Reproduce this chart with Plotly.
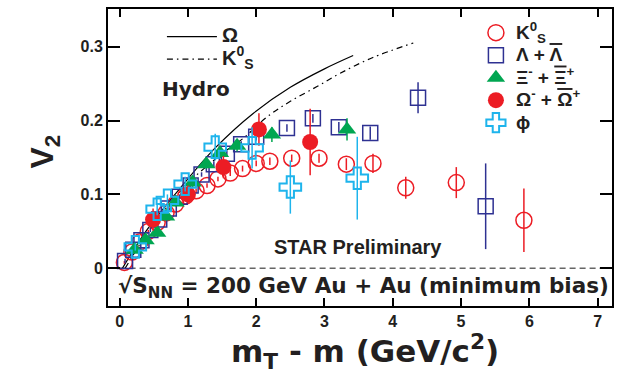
import plotly.graph_objects as go

# ---- measured v2 vs transverse kinetic energy (mT - m) ----
k0s_x = [0.07, 0.18, 0.30, 0.42, 0.55, 0.68, 0.82, 0.97, 1.12, 1.28, 1.44, 1.62, 1.80, 2.00, 2.20, 2.52, 2.92, 3.32, 3.71, 4.19, 4.93, 5.92]
k0s_y = [0.008, 0.022, 0.036, 0.050, 0.062, 0.075, 0.087, 0.098, 0.105, 0.112, 0.121, 0.129, 0.135, 0.142, 0.145, 0.149, 0.149, 0.141, 0.142, 0.109, 0.116, 0.065]
k0s_e = [0.002, 0.002, 0.002, 0.002, 0.002, 0.002, 0.003, 0.003, 0.003, 0.003, 0.003, 0.004, 0.004, 0.004, 0.005, 0.005, 0.006, 0.008, 0.013, 0.015, 0.021, 0.043]

lam_x = [0.08, 0.20, 0.32, 0.45, 0.58, 0.72, 0.88, 1.04, 1.20, 1.38, 1.57, 1.78, 2.00, 2.45, 2.83, 3.21, 3.67, 4.37, 5.36]
lam_y = [0.010, 0.025, 0.038, 0.052, 0.066, 0.081, 0.097, 0.112, 0.127, 0.141, 0.155, 0.168, 0.178, 0.190, 0.203, 0.191, 0.183, 0.231, 0.084]
lam_e = [0.003, 0.003, 0.003, 0.003, 0.003, 0.003, 0.003, 0.003, 0.003, 0.004, 0.004, 0.004, 0.005, 0.005, 0.006, 0.007, 0.009, 0.021, 0.058]

xi_x = [0.22, 0.38, 0.55, 0.68, 0.82, 1.07, 1.27, 1.47, 1.72, 2.23, 3.33]
xi_y = [0.025, 0.038, 0.048, 0.070, 0.089, 0.116, 0.141, 0.156, 0.166, 0.181, 0.188]
xi_e = [0.004, 0.004, 0.004, 0.005, 0.005, 0.006, 0.006, 0.007, 0.008, 0.010, 0.015]

om_x = [0.49, 1.00, 1.52, 2.04, 2.79]
om_y = [0.066, 0.100, 0.137, 0.188, 0.171]
om_e = [0.015, 0.012, 0.015, 0.022, 0.045]

phi_x = [0.23, 0.55, 0.70, 0.96, 1.40, 1.94, 2.50, 3.48]
phi_y = [0.029, 0.080, 0.092, 0.114, 0.164, 0.163, 0.110, 0.122]
phi_e = [0.005, 0.008, 0.008, 0.010, 0.018, 0.028, 0.036, 0.056]

# ---- hydrodynamic calculations ----
hydro_om_x = [0.04, 0.40, 0.90, 1.40, 1.96, 2.50, 3.00, 3.42]
hydro_om_y = [0.000, 0.052, 0.110, 0.163, 0.210, 0.245, 0.270, 0.288]
hydro_k_x = [0.08, 0.50, 1.00, 1.50, 1.81, 2.16, 2.50, 2.89, 3.23, 3.70, 4.30]
hydro_k_y = [0.000, 0.060, 0.115, 0.155, 0.176, 0.205, 0.226, 0.246, 0.264, 0.285, 0.305]

x_ticks = [0, 1, 2, 3, 4, 5, 6, 7]
y_ticks = [0, 0.1, 0.2, 0.3]
y_tick_text = ["0", "0.1", "0.2", "0.3"]

RED = "#ec1c24"
BLUE = "#2e3192"
GREEN = "#00a651"
CYAN = "#1eb4ec"
FONT = "Liberation Sans, Arial, sans-serif"
WIDE = "DejaVu Sans, sans-serif"
INK = "#231f20"


def lg(txt, size=19):
    # legend label drawn larger than the legend's row pitch font
    return f"<b><span style='font-size:{size}px'>{txt}</span></b>"


def ovl(txt):
    # antiparticle bar
    return f"<span style='text-decoration:overline'>{txt}</span>"


fig = go.Figure()

# zero reference line
fig.add_trace(go.Scatter(x=[0, 7.21], y=[0, 0], mode="lines",
                         line=dict(color="#666666", width=1.5, dash="6px,4px"),
                         showlegend=False, hoverinfo="skip"))

# hydro curves
fig.add_trace(go.Scatter(x=hydro_om_x, y=hydro_om_y, mode="lines", name=lg("Ω", 20),
                         line=dict(color="black", width=1.2, shape="spline"),
                         legend="legend2"))
fig.add_trace(go.Scatter(x=hydro_k_x, y=hydro_k_y, mode="lines",
                         name=lg("K<sup>0</sup><sub>S</sub>", 20),
                         line=dict(color="black", width=1.2, dash="6px,4px,1.5px,4px", shape="spline"),
                         legend="legend2"))


def err(arr, color):
    return dict(type="data", array=arr, visible=True, color=color, thickness=1.5, width=0)


fig.add_trace(go.Scatter(x=k0s_x, y=k0s_y, mode="markers", name=lg("K<sup>0</sup><sub>S</sub>"),
                         marker=dict(symbol="circle-open", size=16, color=RED, line=dict(width=1.5, color=RED)),
                         error_y=err(k0s_e, RED)))
fig.add_trace(go.Scatter(x=lam_x, y=lam_y, mode="markers",
                         name=lg("Λ + " + ovl("Λ")),
                         marker=dict(symbol="square-open", size=15, color=BLUE, line=dict(width=1.5, color=BLUE)),
                         error_y=err(lam_e, BLUE)))
fig.add_trace(go.Scatter(x=xi_x, y=xi_y, mode="markers",
                         name=lg("Ξ<sup>-</sup> + " + ovl("Ξ") + "<sup>+</sup>"),
                         marker=dict(symbol="triangle-up", size=16, color=GREEN),
                         error_y=err(xi_e, GREEN)))
fig.add_trace(go.Scatter(x=om_x, y=om_y, mode="markers",
                         name=lg("Ω<sup>-</sup> + " + ovl("Ω") + "<sup>+</sup>"),
                         marker=dict(symbol="circle", size=16, color=RED),
                         error_y=err(om_e, RED)))
fig.add_trace(go.Scatter(x=phi_x, y=phi_y, mode="markers", name=lg("ϕ"),
                         marker=dict(symbol="cross-open", size=18, color=CYAN, line=dict(width=2, color=CYAN)),
                         error_y=err(phi_e, CYAN)))

axis_common = dict(showline=True, linecolor="black", linewidth=2, mirror="ticks",
                   ticks="inside", tickcolor="black", tickwidth=1.5, showgrid=False,
                   zeroline=False, tickfont=dict(family=FONT, size=16, color=INK))

fig.update_xaxes(range=[-0.17, 7.21], tickvals=x_ticks,
                 ticktext=[f"<b>{t}</b>" for t in x_ticks], ticklen=8, **axis_common)
fig.update_yaxes(range=[-0.051, 0.351], tickvals=y_ticks,
                 ticktext=[f"<b>{t}</b>" for t in y_tick_text], ticklen=12, **axis_common)

fig.update_layout(
    width=622, height=374,
    margin=dict(l=108, r=10, t=7, b=68),
    paper_bgcolor="white", plot_bgcolor="white",
    font=dict(family=FONT, color=INK),
    legend=dict(x=0.73, y=0.975, xanchor="left", yanchor="top", bgcolor="rgba(0,0,0,0)",
                font=dict(family=FONT, size=15, color=INK), tracegroupgap=0, itemwidth=30),
    legend2=dict(x=0.107, y=0.962, xanchor="left", yanchor="top", bgcolor="rgba(0,0,0,0)",
                 font=dict(family=FONT, size=15, color=INK), itemwidth=50),
    annotations=[
        dict(text="<b>Hydro</b>", x=0.103, y=0.729, xref="paper", yref="paper",
             xanchor="left", yanchor="middle", showarrow=False,
             font=dict(family=WIDE, size=20, color=INK)),
        dict(text="<b>STAR Preliminary</b>", x=0.497, y=0.2, xref="paper", yref="paper",
             xanchor="center", yanchor="middle", showarrow=False,
             font=dict(family=FONT, size=20, color=INK)),
        dict(text="<b>√S<sub>NN</sub> = 200 GeV Au + Au (minimum bias)</b>", x=0.999, y=0.063,
             xref="paper", yref="paper", xanchor="right", yanchor="middle", showarrow=False,
             font=dict(family=WIDE, size=21.5, color=INK)),
        dict(text="<b>m<sub>T</sub> - m (GeV/c<sup>2</sup>)</b>", x=0.51, y=-0.153,
             xref="paper", yref="paper", xanchor="center", yanchor="middle", showarrow=False,
             font=dict(family=WIDE, size=31, color=INK)),
        dict(text="<b>V<sub>2</sub></b>", x=-0.125, y=0.52, xref="paper", yref="paper",
             xanchor="center", yanchor="middle", showarrow=False, textangle=-90,
             font=dict(family=FONT, size=32, color=INK)),
    ],
)

fig.write_html("out.html")
